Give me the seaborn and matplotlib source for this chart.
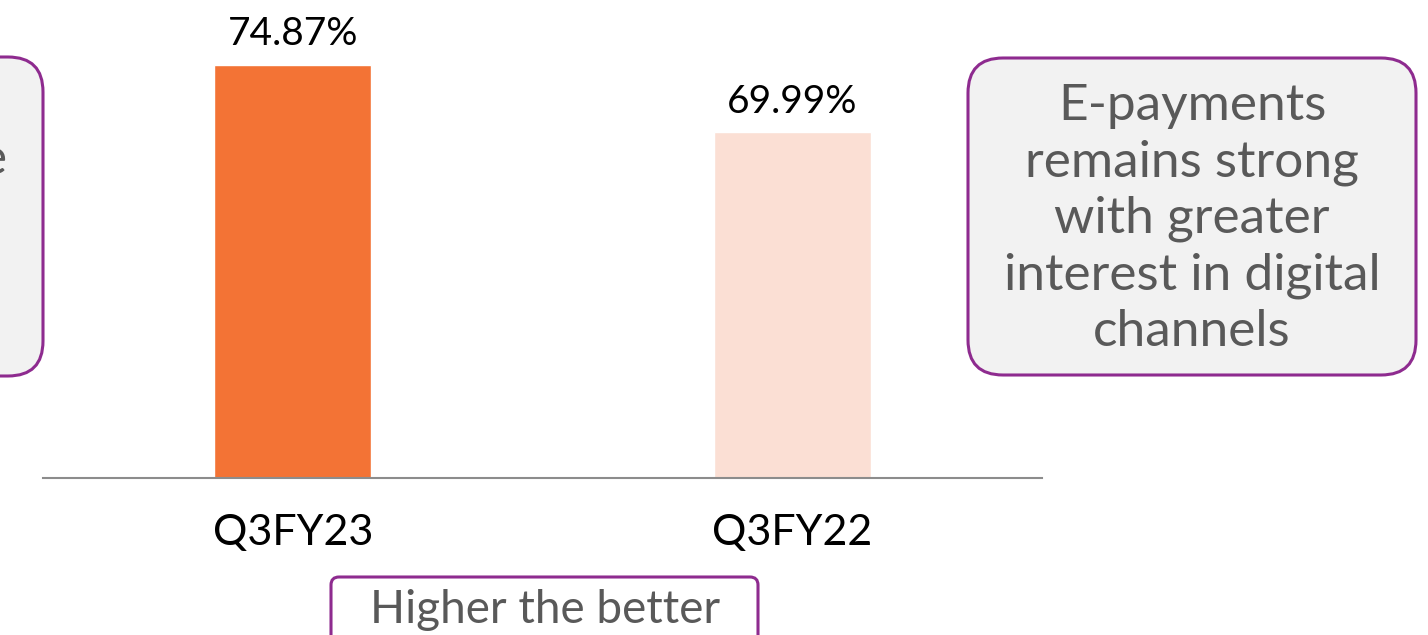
import matplotlib.pyplot as plt
import seaborn as sns
from matplotlib.patches import FancyBboxPatch

# data
quarters = ["Q3FY23", "Q3FY22"]
share_pct = [74.87, 69.99]
bar_colors = ["#F37335", "#FBDFD4"]

note_text = "E-payments\nremains strong\nwith greater\ninterest in digital\nchannels"
footer_text = "Higher the better"

sns.set_theme(style="white")
plt.rcParams['font.family'] = ['Lato', 'DejaVu Sans']

W, H = 1428, 635
fig = plt.figure(figsize=(W / 100, H / 100), dpi=100)

# main bar axes, placed in pixel terms
ax = fig.add_axes([43 / W, (H - 478) / H, (1042 - 43) / W, 478 / H])
sns.barplot(x=quarters, y=share_pct, hue=quarters, palette=bar_colors,
            width=0.314, legend=False, saturation=1, ax=ax)
ax.set_ylim(45, 45 + 478 / 13.83)
ax.set_xlim(-0.5, 1.5)
ax.set_ylabel("")
ax.set_yticks([])
for s in ["top", "right", "left"]:
    ax.spines[s].set_visible(False)
ax.spines["bottom"].set_color("#8C8C8C")
ax.spines["bottom"].set_linewidth(1.5)
ax.tick_params(axis="x", length=0, pad=26, labelsize=31, labelcolor="black")
ax.patch.set_alpha(0)

for cont in ax.containers:
    ax.bar_label(cont, labels=[f"{v:.2f}%" for v in cont.datavalues],
                 padding=9, fontsize=28, color="black")

# overlay in pixel coordinates for the call-out boxes
ov = fig.add_axes([0, 0, 1, 1], zorder=-1)
ov.set_xlim(0, W)
ov.set_ylim(H, 0)
ov.axis("off")

purple = "#8E2B8F"
grey_txt = "#595959"

# right call-out
ov.add_patch(FancyBboxPatch((968 + 35, 58 + 35), 448 - 70, 317 - 70,
                            boxstyle="round,pad=35", fc="#F2F2F2", ec=purple, lw=2.2))
ov.text(1192, 219, note_text, ha="center", va="center", fontsize=37,
        color=grey_txt, linespacing=1.27)

# left call-out (mostly off canvas)
ov.add_patch(FancyBboxPatch((-400, 57 + 35), 408, 319 - 70,
                            boxstyle="round,pad=35", fc="#F2F2F2", ec=purple, lw=2.2))
ov.text(7, 160, "e", ha="right", va="center", fontsize=37, color=grey_txt)

# footer box
ov.add_patch(FancyBboxPatch((331 + 8, 577 + 8), 427 - 16, 100,
                            boxstyle="round,pad=8", fc="white", ec=purple, lw=2.2))
ov.text(545, 610, footer_text, ha="center", va="center", fontsize=33, color=grey_txt)

fig.savefig("out.png", dpi=100)
